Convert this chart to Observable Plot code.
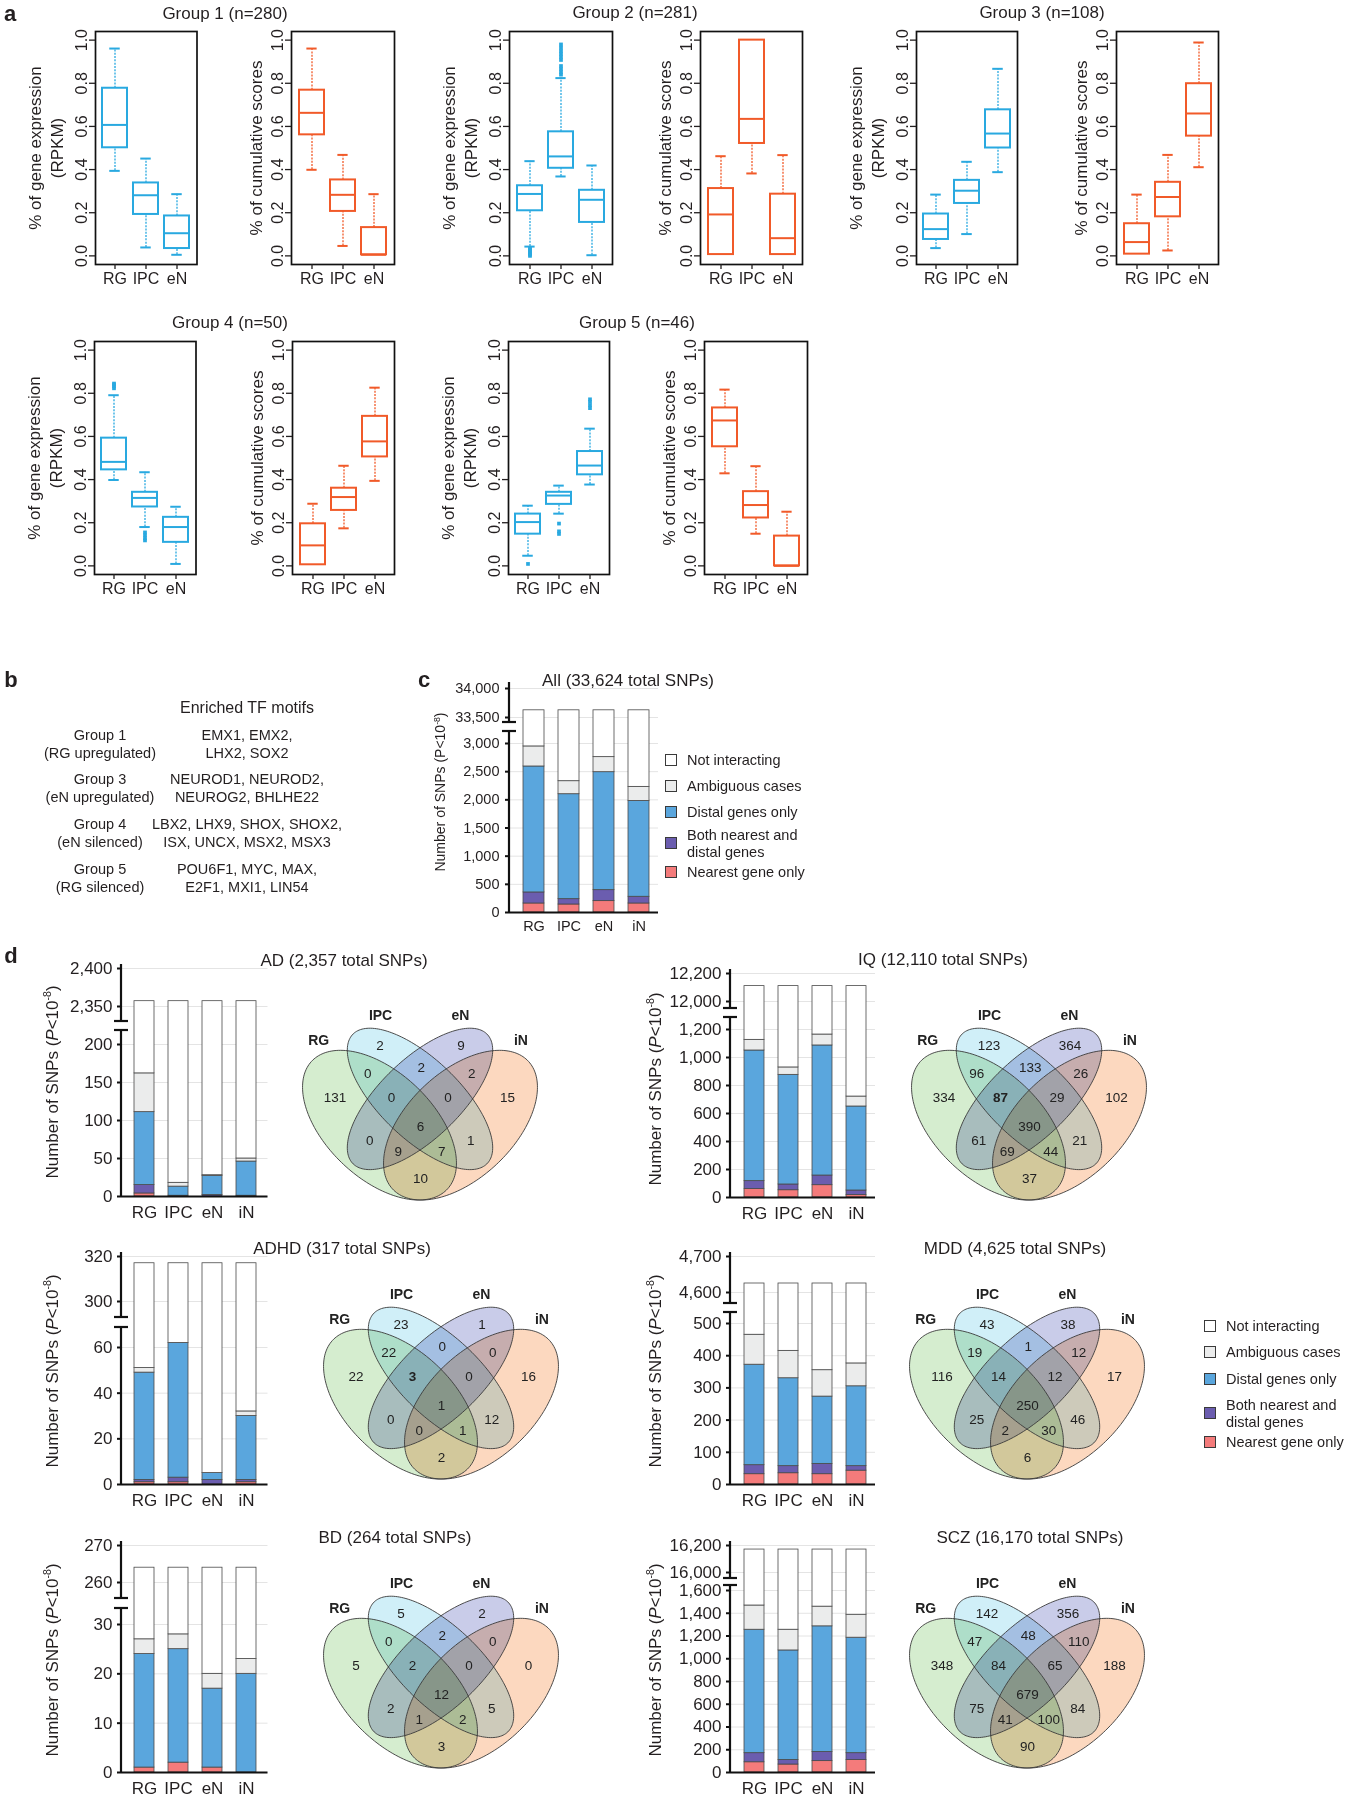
<!DOCTYPE html>
<html>
<head>
<meta charset="utf-8">
<script src="https://cdn.jsdelivr.net/npm/d3@7"></script>
<script src="https://cdn.jsdelivr.net/npm/@observablehq/plot@0.6"></script>
<style>
  html, body { margin: 0; padding: 0; background: #fff; }
  #fig { position: relative; width: 1347px; height: 1800px; overflow: hidden; background: #fff;
         font-family: "Liberation Sans", Arial, Helvetica, sans-serif; color: #231f20; }
  #fig .t { position: absolute; white-space: nowrap; line-height: 1; }
  #fig .sq { position: absolute; width: 12px; height: 12px; box-sizing: border-box; border: 1px solid #3a3a3a; }
  #fig sup { font-size: 0.62em; vertical-align: 0.6em; line-height: 0; }
</style>
</head>
<body>
<div id="fig"></div>
<script>
// ---------------- DATA ----------------
// panel a: box statistics [whisker low, Q1, median, Q3, whisker high] for RG, IPC, eN
const cellsA = ["RG", "IPC", "eN"];
const yTicksA = [0, 0.2, 0.4, 0.6, 0.8, 1.0];
const g1Expr  = [[0.394,0.501,0.607,0.777,0.961],[0.039,0.192,0.281,0.338,0.451],[0.005,0.034,0.105,0.185,0.286]];
const g1Score = [[0.399,0.561,0.663,0.768,0.961],[0.046,0.206,0.283,0.352,0.468],[0.005,0.005,0.005,0.131,0.286]];
const g2Expr  = [[0.043,0.209,0.287,0.325,0.439],[0.368,0.406,0.461,0.575,0.824],[0.003,0.155,0.260,0.304,0.419]];
const g2ExprOut = [[0.0,0.006,0.012,0.018,0.024,0.031,0.037],[0.84,0.852,0.866,0.88,0.908,0.922,0.936,0.95,0.965,0.98],[]];
const g2Score = [[0.006,0.006,0.192,0.312,0.462],[0.382,0.521,0.635,1.0,1.0],[0.006,0.006,0.082,0.286,0.467]];
const g3Expr  = [[0.036,0.076,0.124,0.194,0.284],[0.101,0.243,0.302,0.350,0.436],[0.388,0.500,0.567,0.677,0.867]];
const g3Score = [[0.008,0.008,0.064,0.149,0.284],[0.025,0.181,0.273,0.341,0.468],[0.411,0.555,0.660,0.798,0.989]];
const g4Expr  = [[0.398,0.445,0.482,0.592,0.791],[0.180,0.273,0.315,0.341,0.434],[0.009,0.109,0.180,0.225,0.274]];
const g4ExprOut = [[0.823,0.832,0.840,0.845],[0.155,0.142,0.128,0.118],[]];
const g4Score = [[0.005,0.005,0.095,0.195,0.288],[0.174,0.257,0.319,0.360,0.464],[0.394,0.505,0.577,0.693,0.826]];
const g5Expr  = [[0.047,0.147,0.203,0.240,0.279],[0.242,0.285,0.326,0.341,0.372],[0.377,0.422,0.465,0.530,0.636]];
const g5ExprOut = [[0.009],[0.196,0.160,0.148],[0.772,0.760,0.745,0.731]];
const g5Score = [[0.429,0.552,0.674,0.732,0.817],[0.149,0.222,0.282,0.344,0.462],[0.0,0.0,0.0,0.138,0.251]];

// panels c, d: SNP counts per cell type
const cells = ["RG", "IPC", "eN", "iN"];
const categories = ["Nearest gene only", "Both nearest and distal genes", "Distal genes only", "Ambiguous cases", "Not interacting"];
const allNearest = [160, 142, 202, 160], allBoth = [196, 95, 195, 119], allDistal = [2236, 1863, 2094, 1702], allAmbiguous = [356, 231, 267, 249], allTotal = 33624;
const allLowTicks = [0, 500, 1000, 1500, 2000, 2500, 3000], allHighTicks = [33500, 34000];
const adNearest = [4, 0, 0, 0], adBoth = [11, 1, 2, 1], adDistal = [96, 12, 25, 45], adAmbiguous = [51, 5, 1, 4], adTotal = 2357;
const adLowTicks = [0, 50, 100, 150, 200], adHighTicks = [2350, 2400];
const iqNearest = [60, 52, 88, 17], iqBoth = [57, 41, 69, 33], iqDistal = [933, 783, 929, 600], iqAmbiguous = [76, 53, 78, 71], iqTotal = 12110;
const iqLowTicks = [0, 200, 400, 600, 800, 1000, 1200], iqHighTicks = [12000, 12200];
const adhdNearest = [1, 1, 0, 1], adhdBoth = [1, 2, 2, 1], adhdDistal = [47, 59, 3, 28], adhdAmbiguous = [2, 0, 0, 2], adhdTotal = 317;
const adhdLowTicks = [0, 20, 40, 60], adhdHighTicks = [300, 320];
const mddNearest = [32, 35, 32, 43], mddBoth = [28, 22, 32, 14], mddDistal = [312, 273, 209, 248], mddAmbiguous = [93, 85, 82, 71], mddTotal = 4625;
const mddLowTicks = [0, 100, 200, 300, 400, 500], mddHighTicks = [4600, 4700];
const bdNearest = [1, 2, 1, 0], bdBoth = [0, 0, 0, 0], bdDistal = [23, 23, 16, 20], bdAmbiguous = [3, 3, 3, 3], bdTotal = 264;
const bdLowTicks = [0, 10, 20, 30], bdHighTicks = [260, 270];
const sczNearest = [90, 70, 100, 110], sczBoth = [80, 40, 80, 60], sczDistal = [1085, 963, 1105, 1015], sczAmbiguous = [213, 182, 173, 202], sczTotal = 16170;
const sczLowTicks = [0, 200, 400, 600, 800, 1000, 1200, 1400, 1600], sczHighTicks = [16000, 16200];

// Venn region counts
const vennSets = ["RG", "IPC", "eN", "iN"];
const vennRegions = ["RG","IPC","eN","iN","RG∩IPC","IPC∩eN","eN∩iN","RG∩IPC∩eN","IPC∩eN∩iN","RG∩IPC∩eN∩iN","RG∩eN","IPC∩iN","RG∩eN∩iN","RG∩IPC∩iN","RG∩iN"];
const adVenn   = [131, 2, 9, 15, 0, 2, 2, 0, 0, 6, 0, 1, 9, 7, 10];
const iqVenn   = [334, 123, 364, 102, 96, 133, 26, 87, 29, 390, 61, 21, 69, 44, 37];
const adhdVenn = [22, 23, 1, 16, 22, 0, 0, 3, 0, 1, 0, 12, 0, 1, 2];
const mddVenn  = [116, 43, 38, 17, 19, 1, 12, 14, 12, 250, 25, 46, 2, 30, 6];
const bdVenn   = [5, 5, 2, 0, 0, 2, 0, 2, 0, 12, 2, 5, 1, 2, 3];
const sczVenn  = [348, 142, 356, 188, 47, 48, 110, 84, 65, 679, 75, 84, 41, 100, 90];

// panel b
const tfGroups = ["Group 1", "Group 3", "Group 4", "Group 5"];
const tfDesc = ["(RG upregulated)", "(eN upregulated)", "(eN silenced)", "(RG silenced)"];
const tfMotifs = [["EMX1, EMX2,", "LHX2, SOX2"], ["NEUROD1, NEUROD2,", "NEUROG2, BHLHE22"], ["LBX2, LHX9, SHOX, SHOX2,", "ISX, UNCX, MSX2, MSX3"], ["POU6F1, MYC, MAX,", "E2F1, MXI1, LIN54"]];

// ---------------- STYLE / LAYOUT ----------------
const FONT = '"Liberation Sans", Arial, Helvetica, sans-serif';
const INK = "#231f20";
const BLUE = "#29a9e0", ORANGE = "#f15a29";
const catColors = ["#f47b7b", "#6b5daf", "#5aa6dd", "#ebecec", "#ffffff"];
const vennFills = ["#d5edcf", "#d0eff8", "#c9cce9", "#fcd8bf"];
const fig = document.getElementById("fig");
const baseStyle = {background: "transparent", fontFamily: FONT, color: INK, overflow: "visible"};

function text(str, x, y, o = {}) {
  const el = document.createElement("div");
  el.className = "t";
  if (o.html) el.innerHTML = str; else el.textContent = str;
  el.style.left = x + "px"; el.style.top = y + "px";
  el.style.fontSize = (o.size || 17) + "px";
  if (o.bold) el.style.fontWeight = "bold";
  const tx = o.anchor === "start" ? "0" : o.anchor === "end" ? "-100%" : "-50%";
  el.style.transform = `translate(${tx},-50%)` + (o.rotate ? ` rotate(${o.rotate}deg)` : "");
  fig.appendChild(el);
  return el;
}
function place(node, left, top) {
  node.style.position = "absolute";
  node.style.left = left + "px";
  node.style.top = top + "px";
  fig.appendChild(node);
}

// ---------------- panel a ----------------
function boxPanel(stats, outl, color, frame, yTitles) {
  const [fx0, fx1, fy0, fy1] = frame;
  const ml = 82, mr = 4, mt = 8, mb = 34;
  const W = fx1 - fx0, H = fy1 - fy0;
  const rows = cellsA.map((cell, i) => { const [low, q1, med, q3, high] = stats[i]; return {cell, low, q1, med, q3, high}; });
  const pts = outl ? cellsA.flatMap((cell, i) => outl[i].map(v => ({cell, v}))) : [];
  const step = W / (3 - 0.2 + 2 * 0.22);
  const cap = step * 0.8 * 0.29;
  const dash = {stroke: color, strokeWidth: 1.3, strokeDasharray: "2,1.3"};
  const solid = {stroke: color, strokeWidth: 2};
  const plot = Plot.plot({
    width: ml + W + mr, height: mt + H + mb,
    marginLeft: ml, marginRight: mr, marginTop: mt, marginBottom: mb,
    style: {...baseStyle, fontSize: "16px"},
    x: {domain: cellsA, paddingInner: 0.2, paddingOuter: 0.22, label: null},
    y: {domain: [-0.04, 1.04], label: null},
    marks: [
      Plot.ruleX(rows.filter(d => d.low < d.q1), {x: "cell", y1: "low", y2: "q1", ...dash}),
      Plot.ruleX(rows.filter(d => d.high > d.q3), {x: "cell", y1: "q3", y2: "high", ...dash}),
      Plot.tickY(rows.filter(d => d.low < d.q1), {x: "cell", y: "low", ...solid, insetLeft: cap, insetRight: cap}),
      Plot.tickY(rows.filter(d => d.high > d.q3), {x: "cell", y: "high", ...solid, insetLeft: cap, insetRight: cap}),
      Plot.barY(rows, {x: "cell", y1: "q1", y2: "q3", fill: "white", ...solid}),
      Plot.tickY(rows, {x: "cell", y: "med", ...solid}),
      Plot.dot(pts, {x: "cell", y: "v", symbol: "square", r: 2.1, fill: color}),
      Plot.frame({stroke: "#111", strokeWidth: 1.7}),
      Plot.axisY({ticks: yTicksA, tickFormat: d3.format(".1f"), tickSize: 6, tickRotate: -90, tickPadding: 3, fontSize: 16, strokeWidth: 1.3, label: null}),
      Plot.axisX({tickSize: 5, tickPadding: 3, fontSize: 16, strokeWidth: 1.3, label: null}),
      ...yTitles.map(([t, dx]) => Plot.text([t], {frameAnchor: "left", textAnchor: "middle", dx, rotate: -90, fontSize: 17}))
    ]
  });
  place(plot, fx0 - ml, fy0 - mt);
}
const exprTitles = [["% of gene expression", -60], ["(RPKM)", -38]];
const scoreTitles = [["% of cumulative scores", -35]];
boxPanel(g1Expr, null, BLUE, [94.5, 196, 31, 264], exprTitles);
boxPanel(g1Score, null, ORANGE, [291, 394, 31, 264], scoreTitles);
boxPanel(g2Expr, g2ExprOut, BLUE, [509, 612, 31, 264], exprTitles);
boxPanel(g2Score, null, ORANGE, [700, 802, 31, 264], scoreTitles);
boxPanel(g3Expr, null, BLUE, [916, 1017, 31, 264], exprTitles);
boxPanel(g3Score, null, ORANGE, [1116, 1218, 31, 264], scoreTitles);
boxPanel(g4Expr, g4ExprOut, BLUE, [94, 195.5, 341, 574], exprTitles);
boxPanel(g4Score, null, ORANGE, [292, 394, 341, 574], scoreTitles);
boxPanel(g5Expr, g5ExprOut, BLUE, [508, 609, 341, 574], exprTitles);
boxPanel(g5Score, null, ORANGE, [704, 807, 341, 574], scoreTitles);
text("Group 1 (n=280)", 225, 13);
text("Group 2 (n=281)", 635, 12);
text("Group 3 (n=108)", 1042, 12);
text("Group 4 (n=50)", 230, 322);
text("Group 5 (n=46)", 637, 322);

// ---------------- panel b ----------------
text("Enriched TF motifs", 247, 708, {size: 16});
const tfRowY = [735, 779, 824, 869];
tfGroups.forEach((g, i) => {
  text(g, 100, tfRowY[i], {size: 14.5});
  text(tfDesc[i], 100, tfRowY[i] + 17.5, {size: 14.5});
  text(tfMotifs[i][0], 247, tfRowY[i], {size: 14.5});
  text(tfMotifs[i][1], 247, tfRowY[i] + 17.5, {size: 14.5});
});

// ---------------- panels c, d: stacked bars with broken axis ----------------
function snpPanel(d, L) {
  const rows = [];
  cells.forEach((cell, i) => {
    const parts = [d.nearest[i], d.both[i], d.distal[i], d.ambiguous[i]];
    const rest = d.total - d3.sum(parts);
    [...parts, rest].forEach((value, j) => rows.push({cell, cat: categories[j], value}));
  });
  const ticks = [...d.lowTicks, ...d.highTicks];
  const lowTop = d.lowTicks[d.lowTicks.length - 1], [h1, h2] = d.highTicks;
  const pxLow = (L.py0 - L.pyLowTop) / lowTop, pxHigh = (L.pyH1 - L.pyH2) / (h2 - h1);
  const vLb = lowTop + (L.pyLowTop - L.brLow) / pxLow;
  const vHb = h1 - (L.brHigh - L.pyH1) / pxHigh;
  // broken-axis transform: value -> distance above the baseline (two linear pieces joined across the break)
  const brk = v => v <= vLb ? v * pxLow
    : v <= vHb ? (L.py0 - L.brLow) + (v - vLb) / (vHb - vLb) * (L.brLow - L.brHigh)
    : (L.py0 - L.brHigh) + (v - vHb) * pxHigh;
  const left = L.axisX - 80, top = L.pyTop - 8;
  const width = L.gridEnd + 4 - left, height = L.py0 + 34 - top;
  const frameW = L.gridEnd - L.axisX;
  const yy = v => (L.py0 - top) - brk(v);
  const axisLine = (index, scales, values, dims) => {
    const x = dims.marginLeft;
    const g = d3.create("svg:g").attr("stroke", "#111").attr("stroke-width", 2.2).attr("fill", "none");
    const seg = (x1, y1, x2, y2) => g.append("line").attr("x1", x1).attr("y1", y1).attr("x2", x2).attr("y2", y2);
    seg(x, yy(0) + 1, x, yy(vLb));
    seg(x, yy(vHb), x, yy(h2) - L.over);
    seg(x - 7, yy(vLb), x + 7, yy(vLb));
    seg(x - 7, yy(vHb), x + 7, yy(vHb));
    return g.node();
  };
  const plot = Plot.plot({
    width, height,
    marginLeft: L.axisX - left, marginRight: 4, marginTop: L.pyTop - top, marginBottom: height - (L.py0 - top),
    style: {...baseStyle, fontSize: L.font + "px"},
    x: {domain: cells, range: [L.barL - left, L.barR - left], paddingInner: 0.414, paddingOuter: 0, label: null},
    y: {transform: brk, domain: [0, L.py0 - L.pyTop], range: [L.py0 - top, L.pyTop - top], label: null, axis: null},
    color: {domain: categories, range: catColors},
    marks: [
      Plot.ruleY(ticks, {stroke: "#e4e4e4", strokeWidth: 1}),
      Plot.barY(rows, {x: "cell", y: "value", fill: "cat", stroke: "#4a4a4a", strokeWidth: 0.8}),
      Plot.ruleY([0], {stroke: "#111", strokeWidth: 2.2}),
      axisLine,
      Plot.ruleY(ticks, {stroke: "#111", strokeWidth: 2, insetLeft: -L.tick, insetRight: frameW}),
      Plot.text(ticks, {y: v => v, text: d3.format(","), frameAnchor: "left", textAnchor: "end", dx: -(L.tick + L.pad), fontSize: L.font, fill: INK}),
      Plot.axisX({tickSize: 0, tickPadding: L.xpad, fontSize: L.font, label: null})
    ]
  });
  place(plot, left, top);
}
function yTitle(x, y, size, italic) {
  const p = italic ? "<i>P</i>" : "P";
  text(`Number of SNPs (${p}&lt;10<sup>-8</sup>)`, x, y, {html: true, size, rotate: -90});
}

// c
snpPanel({nearest: allNearest, both: allBoth, distal: allDistal, ambiguous: allAmbiguous, total: allTotal, lowTicks: allLowTicks, highTicks: allHighTicks},
  {axisX: 509, barL: 523, barR: 649, gridEnd: 658, py0: 912, pyLowTop: 743, pyH1: 717, pyH2: 688, brLow: 731, brHigh: 722, pyTop: 684, over: 6, font: 14.5, tick: 4, pad: 6, xpad: 8});
yTitle(440, 792, 14, false);
text("All (33,624 total SNPs)", 628, 680);
text("c", 424, 680, {size: 22, bold: true});

// d
const leftCol = {axisX: 120.5, barL: 132, barR: 257.5, gridEnd: 267, font: 17, tick: 4, pad: 5, xpad: 9, over: 4};
const rightCol = {axisX: 730, barL: 743, barR: 866.5, gridEnd: 875, font: 17, tick: 4, pad: 5, xpad: 9, over: 4};
snpPanel({nearest: adNearest, both: adBoth, distal: adDistal, ambiguous: adAmbiguous, total: adTotal, lowTicks: adLowTicks, highTicks: adHighTicks},
  {...leftCol, py0: 1196, pyLowTop: 1044, pyH1: 1006, pyH2: 968, brLow: 1030, brHigh: 1021, pyTop: 962});
snpPanel({nearest: iqNearest, both: iqBoth, distal: iqDistal, ambiguous: iqAmbiguous, total: iqTotal, lowTicks: iqLowTicks, highTicks: iqHighTicks},
  {...rightCol, py0: 1197, pyLowTop: 1029, pyH1: 1001, pyH2: 973, brLow: 1017, brHigh: 1008, pyTop: 966});
snpPanel({nearest: adhdNearest, both: adhdBoth, distal: adhdDistal, ambiguous: adhdAmbiguous, total: adhdTotal, lowTicks: adhdLowTicks, highTicks: adhdHighTicks},
  {...leftCol, py0: 1484, pyLowTop: 1347, pyH1: 1301, pyH2: 1256, brLow: 1327, brHigh: 1317, pyTop: 1250});
snpPanel({nearest: mddNearest, both: mddBoth, distal: mddDistal, ambiguous: mddAmbiguous, total: mddTotal, lowTicks: mddLowTicks, highTicks: mddHighTicks},
  {...rightCol, py0: 1484, pyLowTop: 1323, pyH1: 1292, pyH2: 1256, brLow: 1312, brHigh: 1303, pyTop: 1250});
snpPanel({nearest: bdNearest, both: bdBoth, distal: bdDistal, ambiguous: bdAmbiguous, total: bdTotal, lowTicks: bdLowTicks, highTicks: bdHighTicks},
  {...leftCol, py0: 1772, pyLowTop: 1624, pyH1: 1582, pyH2: 1545, brLow: 1608, brHigh: 1598, pyTop: 1539});
snpPanel({nearest: sczNearest, both: sczBoth, distal: sczDistal, ambiguous: sczAmbiguous, total: sczTotal, lowTicks: sczLowTicks, highTicks: sczHighTicks},
  {...rightCol, py0: 1772, pyLowTop: 1590, pyH1: 1572, pyH2: 1545, brLow: 1585, brHigh: 1578, pyTop: 1539});

yTitle(52, 1082, 17, true);
yTitle(655, 1089, 17, true);
yTitle(52, 1371, 17, true);
yTitle(655, 1371, 17, true);
yTitle(52, 1660, 17, true);
yTitle(655, 1660, 17, true);
text("AD (2,357 total SNPs)", 344, 960);
text("IQ (12,110 total SNPs)", 943, 959);
text("ADHD (317 total SNPs)", 342, 1248);
text("MDD (4,625 total SNPs)", 1015, 1248);
text("BD (264 total SNPs)", 395, 1537);
text("SCZ (16,170 total SNPs)", 1030, 1537);

// ---------------- Venn diagrams ----------------
// region label anchor positions in the unit square of each Venn
const vennPos = [[0.183,0.577],[0.35,0.775],[0.65,0.775],[0.822,0.577],[0.305,0.667],[0.503,0.692],[0.69,0.667],[0.393,0.577],[0.602,0.577],[0.5,0.465],[0.312,0.411],[0.686,0.411],[0.418,0.372],[0.579,0.372],[0.5,0.27]];
const vennLabelPos = [[0.123,0.795],[0.352,0.888],[0.648,0.888],[0.872,0.795]];
const vennShapes = [
  {cx: 0.35, cy: 0.47, a: 0.35, b: 0.2, rot: -45},
  {cx: 0.5, cy: 0.57, a: 0.35, b: 0.15, rot: -45},
  {cx: 0.5, cy: 0.57, a: 0.35, b: 0.15, rot: 45},
  {cx: 0.65, cy: 0.47, a: 0.35, b: 0.2, rot: 45}
];
function vennPanel(counts, boldKey, xr, yr) {
  const left = xr[0], top = yr[1], width = xr[1] - xr[0], height = yr[0] - yr[1];
  const regions = vennRegions.map((key, i) => ({key, n: counts[i], u: vennPos[i][0], v: vennPos[i][1]}));
  const labels = vennSets.map((s, i) => ({s, u: vennLabelPos[i][0], v: vennLabelPos[i][1]}));
  const ellipses = (index, scales) => {
    const g = d3.create("svg:g");
    const paths = vennShapes.map(e => {
      const c = Math.cos(e.rot * Math.PI / 180), s = Math.sin(e.rot * Math.PI / 180);
      const pts = d3.range(0, 360, 2).map(deg => {
        const t = deg * Math.PI / 180, ex = e.a * Math.cos(t), ey = e.b * Math.sin(t);
        return [scales.x(e.cx + ex * c - ey * s), scales.y(e.cy + ex * s + ey * c)];
      });
      return d3.line()(pts) + "Z";
    });
    paths.forEach((p, i) => g.append("path").attr("d", p).attr("fill", vennFills[i]).style("mix-blend-mode", "multiply"));
    paths.forEach(p => g.append("path").attr("d", p).attr("fill", "none").attr("stroke", "#3a3a3a").attr("stroke-width", 0.9));
    return g.node();
  };
  const plot = Plot.plot({
    width, height, margin: 0,
    style: {...baseStyle, fontSize: "13.5px"},
    x: {domain: [0, 1], axis: null},
    y: {domain: [0, 1], axis: null},
    marks: [
      ellipses,
      Plot.text(regions.filter(r => r.key !== boldKey), {x: "u", y: "v", text: "n", fontSize: 13.5, fill: "#222"}),
      Plot.text(regions.filter(r => r.key === boldKey), {x: "u", y: "v", text: "n", fontSize: 13.5, fontWeight: "bold", fill: "#222"}),
      Plot.text(labels, {x: "u", y: "v", text: "s", fontSize: 14, fontWeight: "bold", fill: "#222"})
    ]
  });
  place(plot, left, top);
}
vennPanel(adVenn, null, [284.5, 554.5], [1248.6, 986]);
vennPanel(iqVenn, "RG∩IPC∩eN", [893.5, 1163.5], [1248.6, 986]);
vennPanel(adhdVenn, "RG∩IPC∩eN", [306, 576], [1527.6, 1265]);
vennPanel(mddVenn, null, [892, 1162], [1527.6, 1265]);
vennPanel(bdVenn, null, [306, 576], [1817, 1554.4]);
vennPanel(sczVenn, null, [892, 1162], [1817, 1554.4]);

// ---------------- legends and panel letters ----------------
const legendNames = [["Not interacting"], ["Ambiguous cases"], ["Distal genes only"], ["Both nearest and", "distal genes"], ["Nearest gene only"]];
const legendColors = ["#ffffff", "#ebecec", "#5aa6dd", "#6b5daf", "#f47b7b"];
function legendBlock(sx, tx, ys) {
  legendNames.forEach((lines, i) => {
    const sq = document.createElement("div");
    sq.className = "sq";
    sq.style.left = sx + "px"; sq.style.top = (ys[i] - 6) + "px"; sq.style.background = legendColors[i];
    fig.appendChild(sq);
    if (lines.length === 1) text(lines[0], tx, ys[i], {size: 14.5, anchor: "start"});
    else { text(lines[0], tx, ys[i] - 8.5, {size: 14.5, anchor: "start"}); text(lines[1], tx, ys[i] + 8.5, {size: 14.5, anchor: "start"}); }
  });
}
legendBlock(665, 687, [760, 786, 812, 843, 872]);
legendBlock(1204, 1226, [1326, 1352, 1379, 1413, 1442]);
text("a", 10, 14, {size: 22, bold: true});
text("b", 11, 680, {size: 22, bold: true});
text("d", 11, 956, {size: 22, bold: true});
</script>
</body>
</html>
